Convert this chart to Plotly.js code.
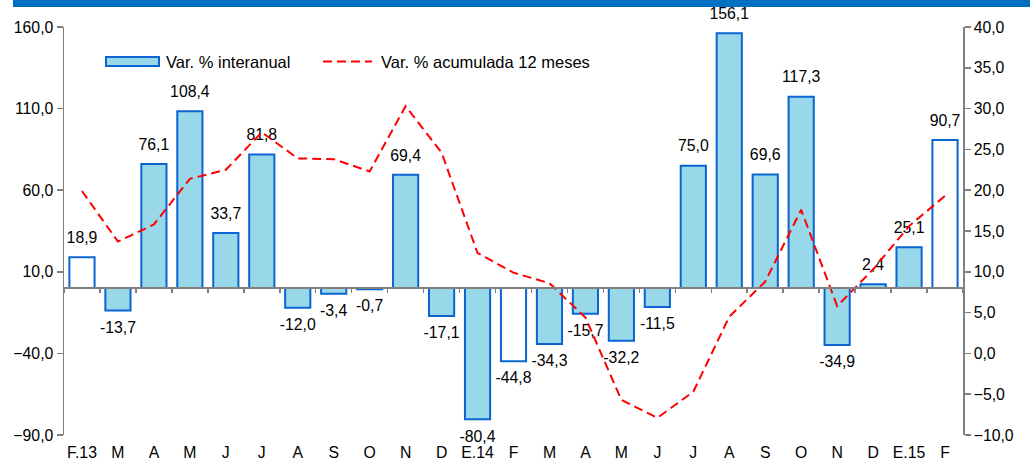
<!DOCTYPE html>
<html>
<head>
<meta charset="utf-8">
<script src="https://cdn.plot.ly/plotly-3.0.1.min.js"></script>
<style>html,body{margin:0;padding:0;background:#fff;}#chart{width:1030px;height:461px;}</style>
</head>
<body>
<div id="chart"></div>
<script>
// Category ids (unique) and displayed tick labels
const categories = ["F.13","M.13","A.13","M2.13","J.13","J2.13","A2.13","S.13","O.13","N.13","D.13","E.14",
  "F.14","M.14","A.14","M2.14","J.14","J2.14","A2.14","S.14","O.14","N.14","D.14","E.15","F.15"];
const tickLabels = ["F.13","M","A","M","J","J","A","S","O","N","D","E.14",
  "F","M","A","M","J","J","A","S","O","N","D","E.15","F"];
// Var. % interanual (left axis)
const interanual = [18.9,-13.7,76.1,108.4,33.7,81.8,-12.0,-3.4,-0.7,69.4,-17.1,-80.4,
  -44.8,-34.3,-15.7,-32.2,-11.5,75.0,156.1,69.6,117.3,-34.9,2.4,25.1,90.7];
// Var. % acumulada 12 meses (right axis)
const acumulada = [19.9,13.7,15.8,21.4,22.5,27.1,23.9,23.8,22.3,30.3,24.6,12.3,
  9.9,8.6,4.4,-5.7,-7.9,-4.7,4.5,8.8,17.6,5.8,10.3,15.6,19.3];
// February bars are drawn hollow
const hollow = [true,false,false,false,false,false,false,false,false,false,false,false,
  true,false,false,false,false,false,false,false,false,false,false,false,true];

const FILL = "#98D8E8", EDGE = "#0A64D2", RED = "#FF0000", AX = "#808080";
const FONT = "Liberation Sans, Arial, sans-serif";
const FS = 15.8, LFS = 16.5;

const L = 64, R = 67, T = 27, B = 26, W = 1030, H = 461;
const pw = W - L - R, ph = H - T - B;
const px = x => (x - L) / pw;
const py = y => (H - B - y) / ph;

const bars = {
  type: "bar", x: categories, y: interanual, xaxis: "x", yaxis: "y",
  marker: {color: hollow.map(h => h ? "#FFFFFF" : FILL), line: {color: EDGE, width: 2}},
  hoverinfo: "skip", showlegend: false
};
const labels = {
  type: "scatter", mode: "markers+text", x: categories, y: interanual, xaxis: "x", yaxis: "y",
  marker: {size: 15, opacity: 0}, texttemplate: "%{y:.1f}",
  textposition: interanual.map(v => v >= 0 ? "top center" : "bottom center"),
  textfont: {family: FONT, size: FS, color: "#000"}, cliponaxis: false,
  hoverinfo: "skip", showlegend: false
};
const line = {
  type: "scatter", mode: "lines", x: categories, y: acumulada, xaxis: "x2", yaxis: "y2",
  line: {color: RED, width: 2, dash: "9px,5px"}, hoverinfo: "skip", showlegend: false
};

const layout = {
  width: W, height: H, margin: {l: L, r: R, t: T, b: B},
  paper_bgcolor: "#fff", plot_bgcolor: "rgba(0,0,0,0)",
  separators: ",.", bargap: 0.3, showlegend: false,
  font: {family: FONT, size: FS, color: "#000"},
  xaxis: {
    type: "category", categoryorder: "array", categoryarray: categories,
    range: [-0.5, categories.length - 0.5], tickmode: "array", tickvals: categories, ticktext: tickLabels,
    showline: false, showgrid: false, zeroline: false, ticks: "outside", ticklen: 3, tickcolor: "rgba(0,0,0,0)",
    tickfont: {family: FONT, size: FS, color: "#000"}, fixedrange: true
  },
  xaxis2: {
    type: "category", categoryorder: "array", categoryarray: categories, overlaying: "x",
    range: [-0.5, categories.length - 0.5], anchor: "free", position: 0.36,
    tickmode: "array", tickvals: categories, tickson: "boundaries", ticks: "outside", ticklen: 4,
    tickcolor: AX, tickwidth: 1.5, showticklabels: false,
    showline: true, linecolor: AX, linewidth: 2, showgrid: false, zeroline: false
  },
  yaxis: {
    range: [-90, 160], tick0: -90, dtick: 50, tickformat: ".1f", ticks: "outside", ticklen: 6,
    tickcolor: AX, tickwidth: 1.5, showline: true, linecolor: AX, linewidth: 1.5,
    showgrid: false, zeroline: false, tickfont: {family: FONT, size: FS, color: "#000"}
  },
  yaxis2: {
    range: [-10, 40], tick0: -10, dtick: 5, tickformat: ".1f", overlaying: "y", side: "right", anchor: "x",
    ticks: "outside", ticklen: 6, tickcolor: AX, tickwidth: 1.5, showline: true, linecolor: AX, linewidth: 1.5,
    showgrid: false, zeroline: false, tickfont: {family: FONT, size: FS, color: "#000"}
  },
  shapes: [
    {type: "rect", xref: "paper", yref: "paper", x0: px(13), x1: px(1030), y0: py(7), y1: py(0),
     fillcolor: "#0070C0", line: {width: 0}, layer: "above"},
    {type: "rect", xref: "paper", yref: "paper", x0: px(106), x1: px(159), y0: py(66), y1: py(57),
     fillcolor: FILL, line: {color: EDGE, width: 2}},
    {type: "line", xref: "paper", yref: "paper", x0: px(323), x1: px(372), y0: py(61.5), y1: py(61.5),
     line: {color: RED, width: 2, dash: "9px,5px"}}
  ],
  annotations: [
    {xref: "paper", yref: "paper", x: px(164), y: py(61.5), xanchor: "left", yanchor: "middle",
     text: "Var. % interanual", showarrow: false, font: {family: FONT, size: LFS, color: "#000"}},
    {xref: "paper", yref: "paper", x: px(379), y: py(61.5), xanchor: "left", yanchor: "middle",
     text: "Var. % acumulada 12 meses", showarrow: false, font: {family: FONT, size: LFS, color: "#000"}}
  ]
};

Plotly.newPlot("chart", [bars, labels, line], layout, {staticPlot: true, displayModeBar: false});
</script>
</body>
</html>
